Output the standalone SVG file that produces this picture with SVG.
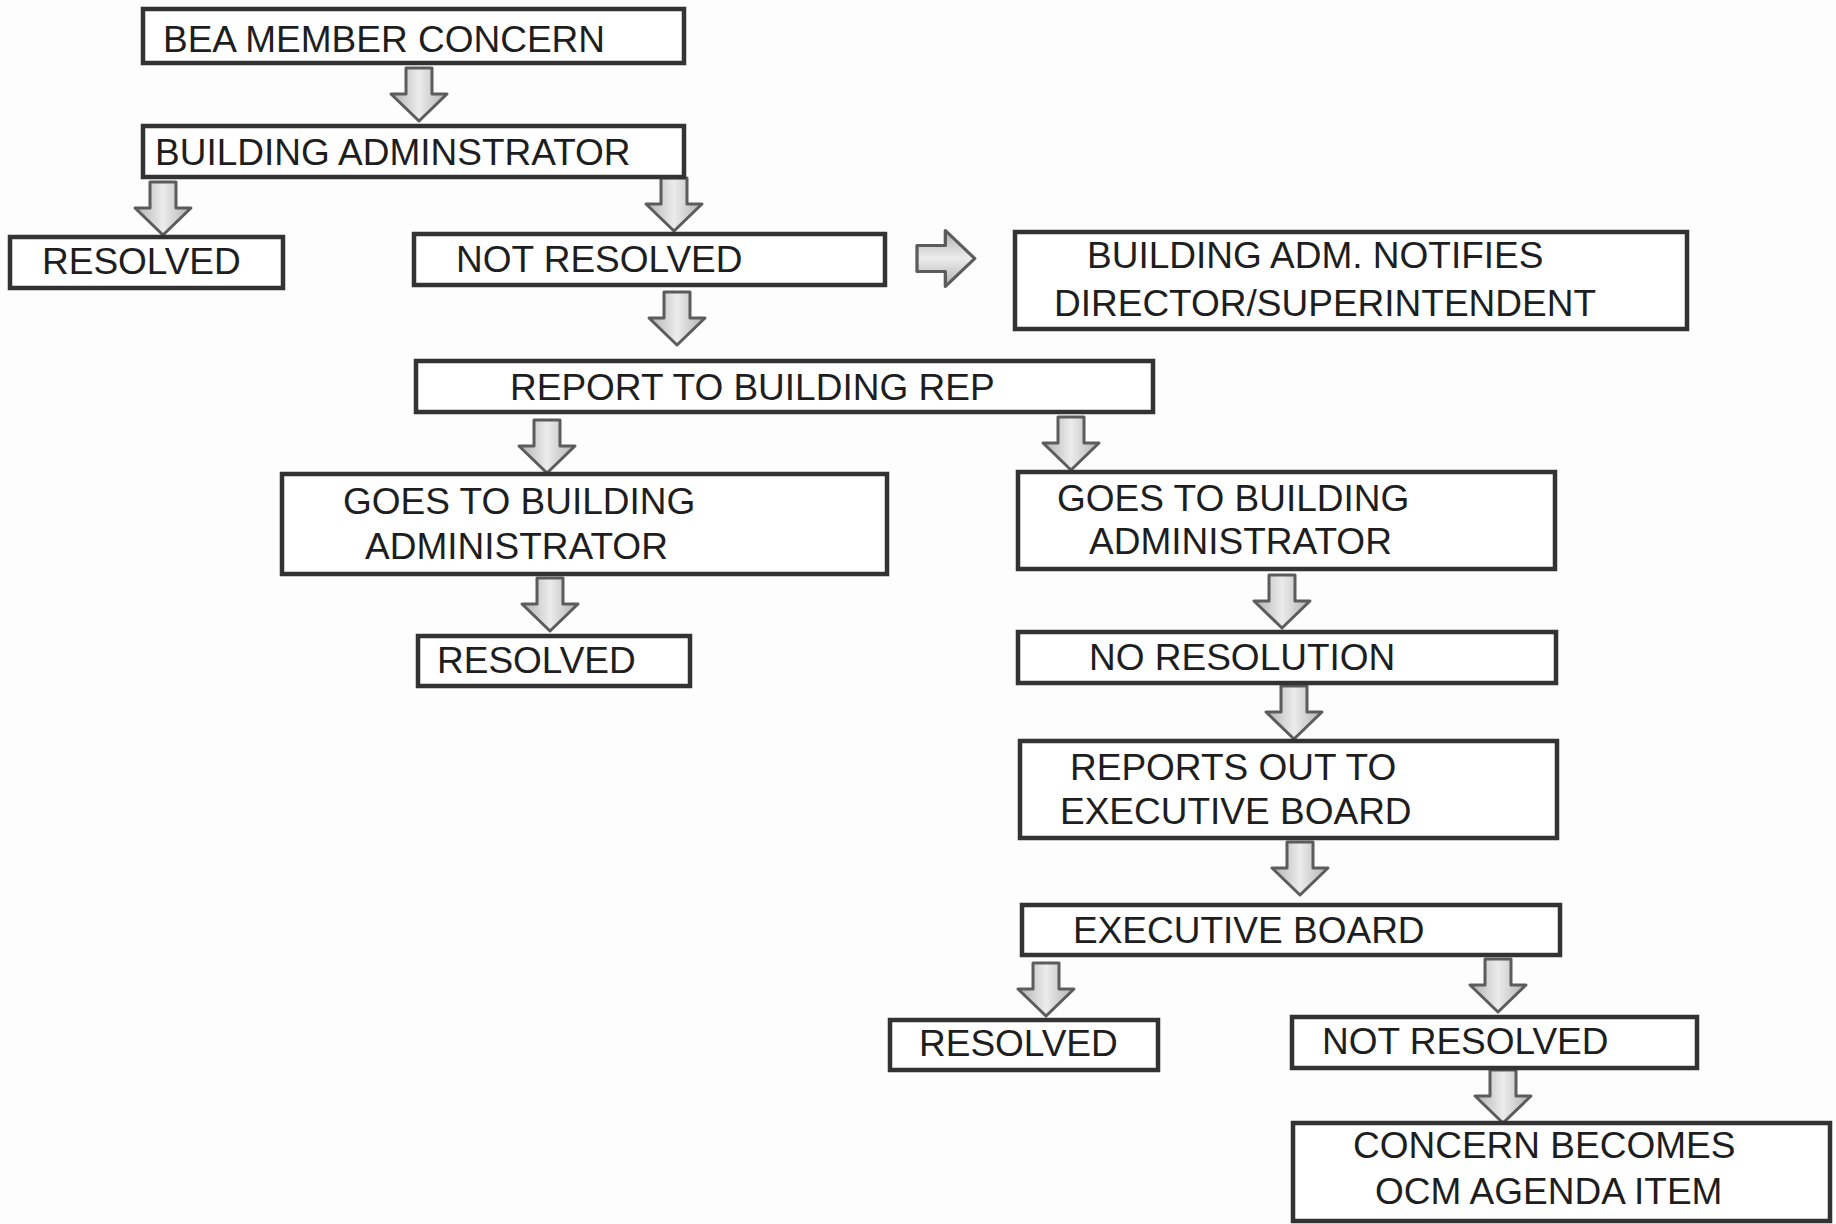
<svg xmlns="http://www.w3.org/2000/svg" xmlns:xlink="http://www.w3.org/1999/xlink" width="1836" height="1224" viewBox="0 0 1836 1224">
<style>
.box{fill:#ffffff;stroke:#333333;stroke-width:4.5}
.t{font-family:"Liberation Sans",Arial,sans-serif;font-size:37px;fill:#1e1e1e}
</style>
<defs>
<linearGradient id="ag" x1="0" y1="0" x2="1" y2="0">
<stop offset="0" stop-color="#b0b0b0"/>
<stop offset="0.5" stop-color="#ececec"/>
<stop offset="1" stop-color="#b0b0b0"/>
</linearGradient>
<path id="ad" d="M-13,0 H13 V26 H28 L0,53 L-28,26 H-13 Z" fill="url(#ag)" stroke="#5c5c5c" stroke-width="3" stroke-linejoin="round"/>
</defs>
<rect width="1836" height="1224" fill="#fdfdfd"/>
<g id="connectors">
<use xlink:href="#ad" transform="translate(419,68)"/>
<use xlink:href="#ad" transform="translate(163,182)"/>
<use xlink:href="#ad" transform="translate(674,178)"/>
<use xlink:href="#ad" transform="translate(677,292)"/>
<use xlink:href="#ad" transform="translate(917,258.5) rotate(-90) scale(1,1.09)"/>
<use xlink:href="#ad" transform="translate(547,420)"/>
<use xlink:href="#ad" transform="translate(1071,417)"/>
<use xlink:href="#ad" transform="translate(550,578)"/>
<use xlink:href="#ad" transform="translate(1282,575)"/>
<use xlink:href="#ad" transform="translate(1294,686)"/>
<use xlink:href="#ad" transform="translate(1300,842)"/>
<use xlink:href="#ad" transform="translate(1046,963)"/>
<use xlink:href="#ad" transform="translate(1498,959)"/>
<use xlink:href="#ad" transform="translate(1503,1070)"/>
</g>
<g id="n1"><rect class="box" x="143" y="9" width="541" height="54"/><text class="t" x="163" y="52">BEA MEMBER CONCERN</text></g>
<g id="n2"><rect class="box" x="143" y="126" width="541" height="51"/><text class="t" x="155" y="165">BUILDING ADMINSTRATOR</text></g>
<g id="n3"><rect class="box" x="10" y="237" width="273" height="51"/><text class="t" x="42" y="274">RESOLVED</text></g>
<g id="n4"><rect class="box" x="414" y="234" width="471" height="51"/><text class="t" x="456" y="272">NOT RESOLVED</text></g>
<g id="n5"><rect class="box" x="1015" y="232" width="672" height="97"/><text class="t" x="1087" y="268">BUILDING ADM. NOTIFIES</text><text class="t" x="1054" y="316">DIRECTOR/SUPERINTENDENT</text></g>
<g id="n6"><rect class="box" x="416" y="361" width="737" height="51"/><text class="t" x="510" y="400">REPORT TO BUILDING REP</text></g>
<g id="n7"><rect class="box" x="282" y="474" width="605" height="100"/><text class="t" x="343" y="514">GOES TO BUILDING</text><text class="t" x="365" y="559">ADMINISTRATOR</text></g>
<g id="n8"><rect class="box" x="418" y="636" width="272" height="50"/><text class="t" x="437" y="673">RESOLVED</text></g>
<g id="n9"><rect class="box" x="1018" y="472" width="537" height="97"/><text class="t" x="1057" y="511">GOES TO BUILDING</text><text class="t" x="1089" y="554">ADMINISTRATOR</text></g>
<g id="n10"><rect class="box" x="1018" y="632" width="538" height="51"/><text class="t" x="1089" y="670">NO RESOLUTION</text></g>
<g id="n11"><rect class="box" x="1020" y="741" width="537" height="97"/><text class="t" x="1070" y="780">REPORTS OUT TO</text><text class="t" x="1060" y="824">EXECUTIVE BOARD</text></g>
<g id="n12"><rect class="box" x="1022" y="905" width="538" height="50"/><text class="t" x="1073" y="943">EXECUTIVE BOARD</text></g>
<g id="n13"><rect class="box" x="890" y="1020" width="268" height="50"/><text class="t" x="919" y="1056">RESOLVED</text></g>
<g id="n14"><rect class="box" x="1292" y="1017" width="405" height="51"/><text class="t" x="1322" y="1054">NOT RESOLVED</text></g>
<g id="n15"><rect class="box" x="1293" y="1123" width="537" height="98"/><text class="t" x="1353" y="1158">CONCERN BECOMES</text><text class="t" x="1375" y="1204">OCM AGENDA ITEM</text></g>
</svg>
